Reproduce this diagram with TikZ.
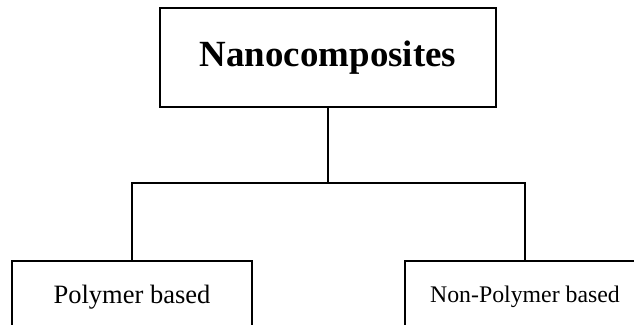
\documentclass[tikz,border=0pt]{standalone}
\usepackage{fontspec}
\setmainfont{Liberation Serif}
\begin{document}
\begin{tikzpicture}[x=1pt,y=1pt,
  box/.style={draw=black,line width=1.6pt,rectangle,inner sep=0pt,align=center},
  link/.style={draw=black,line width=1.8pt}]
\useasboundingbox (0,0) rectangle (634,324);
\clip (0,0) rectangle (634,324);
\node[box,minimum width=336pt,minimum height=99pt,font=\fontsize{36.9}{40}\selectfont\bfseries] (title) at (328,266.5) {Nanocomposites};
\node[box,minimum width=240pt,minimum height=71.6pt,font=\fontsize{26.5}{30}\selectfont] (poly) at (132,27.2) {Polymer based};
\node[box,minimum width=240pt,minimum height=71pt,font=\fontsize{23.8}{28}\selectfont] (nonpoly) at (525,27.5) {Non-Polymer based};
\coordinate (junc) at (328,141);
\draw[link] (title.south) -- (junc);
\draw[link] (junc) -| (poly.north);
\draw[link] (junc) -| (nonpoly.north);
\end{tikzpicture}
\end{document}
